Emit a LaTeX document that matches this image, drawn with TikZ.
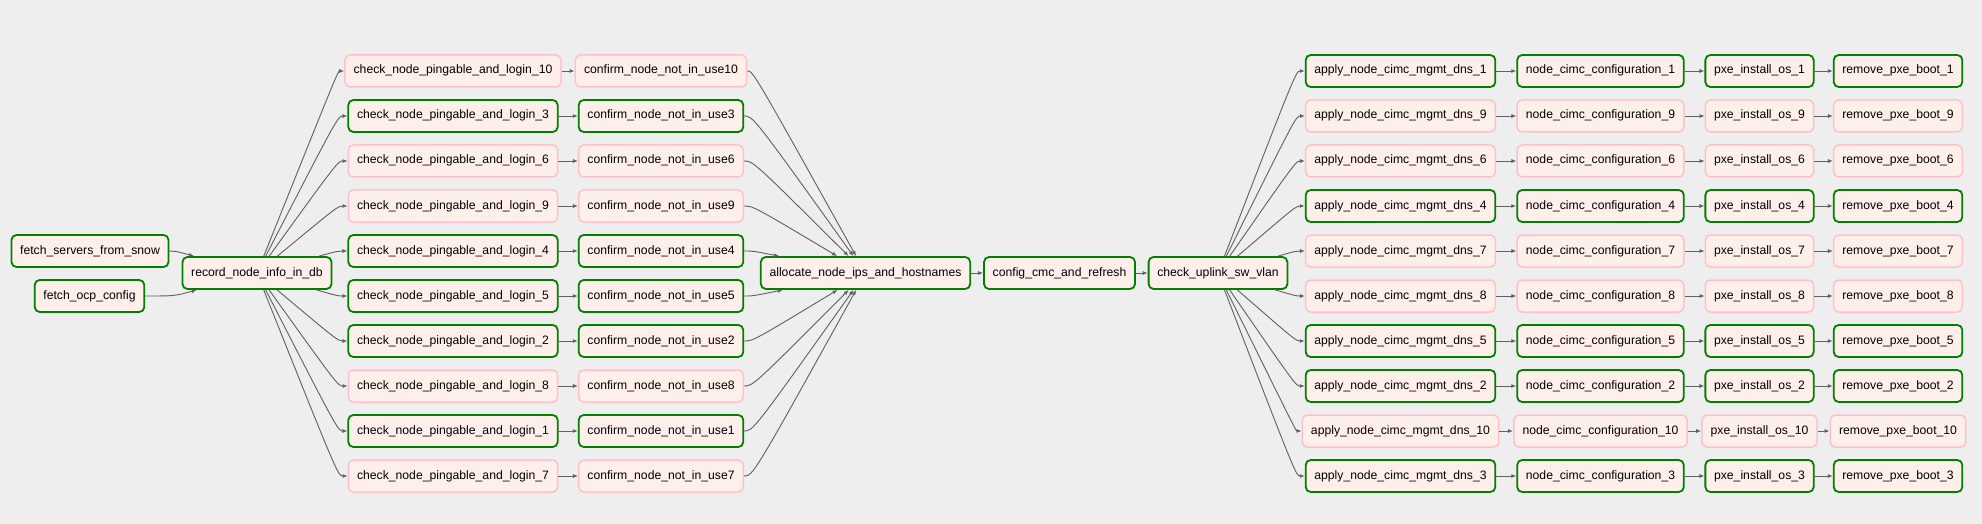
\documentclass[tikz,border=0pt]{standalone}
\usepackage{fontspec}
\setmainfont{Liberation Sans}
\usetikzlibrary{arrows.meta,calc}
\definecolor{bgrey}{HTML}{EEEEEE}
\definecolor{tfill}{HTML}{FFEFEB}
\definecolor{cok}{HTML}{008000}
\definecolor{cskip}{HTML}{FFC0CB}
\definecolor{cedge}{HTML}{606060}
\tikzset{
  task/.style={
    rectangle, rounded corners=5pt, fill=tfill,
    minimum height=32pt, inner xsep=8.7pt, inner ysep=0pt,
    text height=9pt, text depth=3pt,
    font=\fontsize{12.2}{14}\selectfont
  },
  taskok/.style={task, draw=cok, line width=1.8pt},
  taskskip/.style={task, draw=cskip, line width=1.5pt},
  edge/.style={-{Latex[length=5pt,width=4pt]}, line width=0.9pt, color=cedge}
}
\begin{document}
\begin{tikzpicture}[x=1pt, y=-1pt]

    \fill[bgrey] (0,0) rectangle (1982,524);
    \useasboundingbox (0,0) rectangle (1982,524);

    %% ---- mid-rank columns for the fans -------------------------------
    \coordinate (m0) at (175,0);
    \coordinate (m1) at (338,0);
    \coordinate (m3) at (753,0);
    \coordinate (m6) at (1296,0);

    %% ---- first tasks ---------------------------------------------------
    \node[taskok] (fsrv) at (90,251)  {fetch\_servers\_from\_snow};
    \node[taskok] (focp) at (89.5,296) {fetch\_ocp\_config};
    \node[taskok] (rec)  at (257,273) {record\_node\_info\_in\_db};

    %% ---- node checks -----------------------------------------------------
    \foreach \n/\r/\s [evaluate=\r as \y using 71+45*\r] in
      {10/0/skip, 3/1/ok, 6/2/skip, 9/3/skip, 4/4/ok,
       5/5/ok, 2/6/ok, 8/7/skip, 1/8/ok, 7/9/skip}{
      \node[task\s] (chk\n) at (453,\y) {check\_node\_pingable\_and\_login\_\n};
      \node[task\s] (cnf\n) at (661,\y) {confirm\_node\_not\_in\_use\n};
    }

    %% ---- middle chain ----------------------------------------------------
    \node[taskok] (alloc) at (865.5,273) {allocate\_node\_ips\_and\_hostnames};
    \node[taskok] (cmc)   at (1059.5,273) {config\_cmc\_and\_refresh};
    \node[taskok] (vlan)  at (1218,273) {check\_uplink\_sw\_vlan};

    %% ---- per node install ------------------------------------------------
    \foreach \n/\r/\s [evaluate=\r as \y using 71+45*\r] in
      {1/0/ok, 9/1/skip, 6/2/skip, 4/3/ok, 7/4/skip,
       8/5/skip, 5/6/ok, 2/7/ok, 10/8/skip, 3/9/ok}{
      \node[task\s] (dns\n)  at (1400.5,\y) {apply\_node\_cimc\_mgmt\_dns\_\n};
      \node[task\s] (cimc\n) at (1600.5,\y) {node\_cimc\_configuration\_\n};
      \node[task\s] (pxe\n)  at (1759.5,\y) {pxe\_install\_os\_\n};
      \node[task\s] (rmv\n)  at (1898,\y)   {remove\_pxe\_boot\_\n};
    }

    %% ---- edges -----------------------------------------------------------
    \draw[edge] (fsrv) .. controls (m0 |- fsrv) .. (rec);
    \draw[edge] (focp) .. controls (m0 |- focp) .. (rec);

    \foreach \n in {1,...,10}{
      \draw[edge] (rec) .. controls (m1 |- chk\n) .. (chk\n);
      \draw[edge] (chk\n) -- (cnf\n);
      \draw[edge] (cnf\n) .. controls (m3 |- cnf\n) .. (alloc);
      \draw[edge] (vlan) .. controls (m6 |- dns\n) .. (dns\n);
      \draw[edge] (dns\n) -- (cimc\n);
      \draw[edge] (cimc\n) -- (pxe\n);
      \draw[edge] (pxe\n) -- (rmv\n);
    }
    \draw[edge] (alloc) -- (cmc);
    \draw[edge] (cmc) -- (vlan);

\end{tikzpicture}
\end{document}
